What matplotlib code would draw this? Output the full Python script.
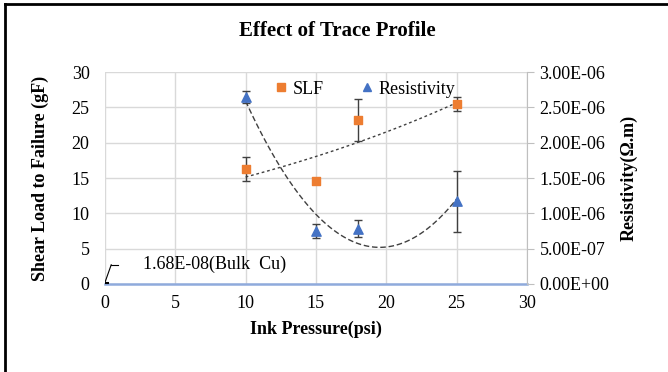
import matplotlib.pyplot as plt
import numpy as np
from matplotlib.lines import Line2D

plt.rcParams['font.family'] = ['Liberation Serif', 'DejaVu Serif']

# data
pressure = [10, 15, 18, 25]
slf = [16.3, 14.6, 23.2, 25.5]
slf_err = [1.7, 0.0, 3.0, 1.0]
resist = [2.65e-6, 0.75e-6, 0.78e-6, 1.17e-6]
resist_err = [0.09e-6, 0.1e-6, 0.12e-6, 0.43e-6]
bulk_cu = 1.68e-8

fig = plt.figure(figsize=(6.68, 3.72), dpi=100)
ax = fig.add_axes([0.157, 0.237, 0.632, 0.569])
ax2 = ax.twinx()

# left axis: SLF
ax.errorbar(pressure, slf, yerr=slf_err, fmt='none', ecolor='#404040',
            elinewidth=1, capsize=3, zorder=3)
ax.scatter(pressure, slf, marker='s', s=40, color='#ed7d31', zorder=4, label='SLF')
# exponential trendline
b, a = np.polyfit(pressure, np.log(slf), 1)
xt = np.linspace(min(pressure), max(pressure), 100)
ax.plot(xt, np.exp(a) * np.exp(b * xt), ls=(0, (2, 2)), color='#404040', lw=1, zorder=2)

ax.set_xlim(0, 30)
ax.set_ylim(0, 30)
ax.set_xticks(range(0, 31, 5))
ax.set_yticks(range(0, 31, 5))
ax.grid(True, color='#d9d9d9', lw=1)
ax.set_axisbelow(True)
for s in ['top', 'left', 'right']:
    ax.spines[s].set_visible(False)
ax.spines['bottom'].set_color('#8faadc')
ax.spines['bottom'].set_linewidth(1.8)
ax.tick_params(axis='x', length=0, labelsize=13, pad=8)
ax.tick_params(axis='y', length=0, labelsize=13, pad=11)
ax.set_xlabel('Ink Pressure(psi)', fontsize=13, fontweight='bold', labelpad=6)
ax.set_ylabel('Shear Load to Failure (gF)', fontsize=13, fontweight='bold', labelpad=16)

# right axis: resistivity
ax2.errorbar(pressure, resist, yerr=resist_err, fmt='none', ecolor='#404040',
             elinewidth=1, capsize=3, zorder=3)
ax2.scatter(pressure, resist, marker='^', s=45, color='#4472c4', zorder=4, label='Resistivity')
c = np.polyfit(pressure, resist, 2)
ax2.plot(xt, np.polyval(c, xt), ls=(0, (4, 2)), color='#404040', lw=1, zorder=2)
ax2.scatter([0], [bulk_cu], marker='_', s=40, color='black', zorder=4)
ax2.plot([0, 0.45], [bulk_cu, 2.7e-7], color='black', lw=0.8)
ax2.plot([0.45, 0.95], [2.7e-7, 2.7e-7], color='black', lw=0.8)
ax2.text(2.7, 2.75e-7, '%.2E(Bulk  Cu)' % bulk_cu, fontsize=13, va='center')

ax2.set_ylim(0, 3e-6)
ax2.set_yticks(np.arange(0, 3.01e-6, 0.5e-6))
ax2.set_yticklabels(['%.2E' % v for v in np.arange(0, 3.01e-6, 0.5e-6)])
for s in ['top', 'left', 'bottom']:
    ax2.spines[s].set_visible(False)
ax2.spines['right'].set_color('#bfbfbf')
ax2.tick_params(axis='y', length=5, color='#bfbfbf', labelsize=13, pad=4)
ax2.set_ylabel('Resistivity(\u03a9.m)', fontsize=13, fontweight='bold', labelpad=8)

handles = [Line2D([], [], marker='s', ls='none', color='#ed7d31', markersize=6),
           Line2D([], [], marker='^', ls='none', color='#4472c4', markersize=6)]
ax.legend(handles, ['SLF', 'Resistivity'], ncol=2, loc='center left',
          bbox_to_anchor=(0.37, 0.92), frameon=False, fontsize=13,
          handletextpad=0.05, handlelength=1.2, columnspacing=1.8, borderpad=0)

fig.text(0.505, 0.918, 'Effect of Trace Profile', ha='center', va='center',
         fontsize=15, fontweight='bold')

# frame lines top and left
fig.add_artist(Line2D([0.007, 0.007], [0, 0.99], transform=fig.transFigure, color='black', lw=2))
fig.add_artist(Line2D([0.007, 1.0], [0.988, 0.988], transform=fig.transFigure, color='black', lw=2))

fig.savefig('out.png', dpi=100)
